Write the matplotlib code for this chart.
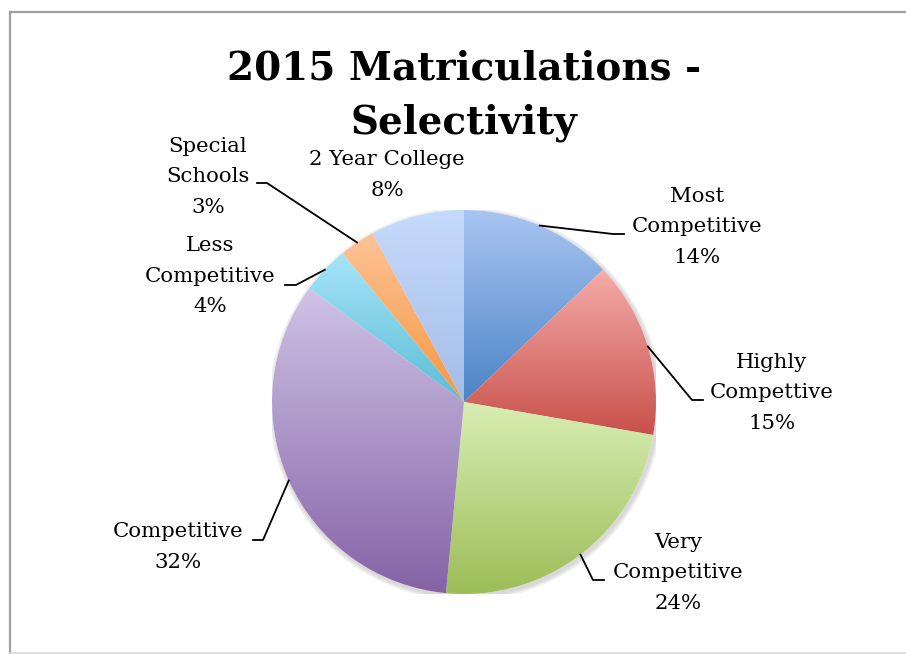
import numpy as np
import matplotlib
matplotlib.use("Agg")
import matplotlib.pyplot as plt
from matplotlib.colors import LinearSegmentedColormap
from matplotlib.lines import Line2D

# ---- data ----
categories = ["Most\nCompetitive", "Highly\nCompettive", "Very\nCompetitive",
              "Competitive", "Less\nCompetitive", "Special\nSchools", "2 Year College"]
# slice sizes as read from the drawn wedges
values = [12.9, 14.85, 23.75, 33.6, 4.0, 3.0, 7.9]
# percentage labels as printed on the chart
pct_labels = ["14%", "15%", "24%", "32%", "4%", "3%", "8%"]
top_colors = ["#a9c5f2", "#f5aca9", "#d8eeb3", "#cfc3e6", "#a6e4f7", "#fdc397", "#c5dbfc"]
bottom_colors = ["#4a84c6", "#c8504b", "#9dbd58", "#8563a6", "#5bbdd6", "#f69741", "#a4bde6"]
title = "2015 Matriculations -\nSelectivity"

W, H = 906, 654
fig = plt.figure(figsize=(W / 100, H / 100), dpi=100)
fig.patch.set_facecolor("white")

# pie geometry in pixels
cx, cy, R = 464, 402, 192
ax = fig.add_axes([(cx - R) / W, (H - cy - R) / H, 2 * R / W, 2 * R / H])
ax.set_xlim(-1, 1)
ax.set_ylim(-1, 1)
ax.set_aspect("equal")
ax.axis("off")

FONT = "DejaVu Serif"

# soft shadow
for i, a in enumerate([0.05, 0.05, 0.05]):
    sh = plt.Circle((0.008, -0.012), 1.0 + 0.008 * (i + 1), color="#000000", alpha=a, lw=0, zorder=0)
    ax.add_patch(sh)

wedges, _ = ax.pie(values, startangle=90, counterclock=False, radius=1,
                   wedgeprops=dict(linewidth=0))
grad = np.linspace(0, 1, 256).reshape(-1, 1)
for w, tc, bc in zip(wedges, top_colors, bottom_colors):
    w.set_facecolor("white")
    w.set_zorder(1)
    ext = w.get_path().get_extents()
    cmap = LinearSegmentedColormap.from_list("g", [bc, tc])
    im = ax.imshow(grad, cmap=cmap, origin="lower", aspect="auto",
                   extent=[ext.x0, ext.x1, ext.y0, ext.y1], zorder=2, interpolation="bilinear")
    im.set_clip_path(w)
ax.set_xlim(-1, 1)
ax.set_ylim(-1, 1)


def px2d(px, py):
    return (px - cx) / R, (cy - py) / R


fs = 15.3
lsp = 32 / (fs * 100 / 72) * 1.16

# label centers (pixels), leader elbows/ends (pixels) or None
label_pos = [(697, 227), (772, 393), (678, 573), (178, 547), (210, 276), (208, 177), (387, 175)]
leaders = [((613, 234), (624, 234)), ((692, 400), (703, 400)), ((593, 580), (604, 580)),
           ((263, 540), (253, 540)), ((296, 285), (285, 285)), ((267, 183), (257, 183)), None]

for w, cat, pl, lp, ld in zip(wedges, categories, pct_labels, label_pos, leaders):
    tx, ty = px2d(*lp)
    ax.text(tx, ty, f"{cat}\n{pl}", ha="center", va="center", multialignment="center",
            fontsize=fs, family=FONT, linespacing=lsp, clip_on=False, zorder=5)
    if ld is not None:
        th = np.deg2rad((w.theta1 + w.theta2) / 2)
        sx, sy = np.cos(th), np.sin(th)
        ex1, ey1 = px2d(*ld[0])
        ex2, ey2 = px2d(*ld[1])
        ax.plot([sx, ex1, ex2], [sy, ey1, ey2], color="black", lw=1.3, clip_on=False, zorder=4)

fig.text(cx / W, 1 - 96 / H, title, ha="center", va="center", fontsize=28,
         fontweight="bold", family=FONT, linespacing=54 / (28 * 100 / 72) * 1.1)

# chart frame
fig.add_artist(Line2D([9.5 / W, 9.5 / W], [0, 1 - 11.5 / H], transform=fig.transFigure, color="#a0a0a0", lw=1.6))
fig.add_artist(Line2D([9.5 / W, 1], [1 - 11.5 / H, 1 - 11.5 / H], transform=fig.transFigure, color="#a0a0a0", lw=1.6))
fig.add_artist(Line2D([9.5 / W, 1], [1.2 / H, 1.2 / H], transform=fig.transFigure, color="#d8d8d8", lw=1.2))

fig.savefig("out.png", dpi=100)
